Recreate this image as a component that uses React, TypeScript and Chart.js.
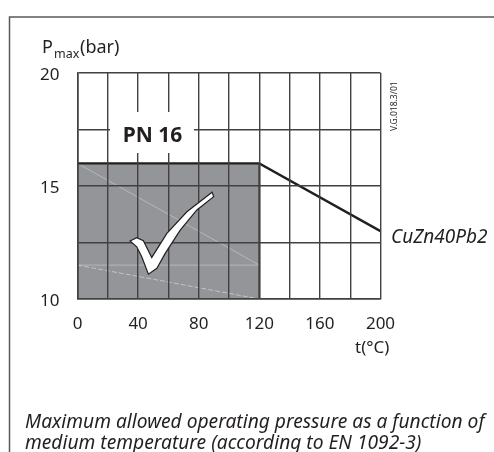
import React, { useEffect, useRef } from "react";
import { Chart, registerables } from "chart.js";

Chart.register(...registerables);

const xTickLabels = [0, 40, 80, 120, 160, 200];
const yTickLabels = [10, 15, 20];
const limitT = [0, 120, 200];
const limitP = [16, 16, 13];
const allowedT = [0, 120];
const allowedP = [16, 16];
const allowedEdge = [{ x: 120, y: 10 }, { x: 120, y: 16 }];
const faintDiagonal = [{ x: 0, y: 16 }, { x: 120, y: 11.5 }];
const faintLevel = [{ x: 0, y: 11.5 }, { x: 120, y: 11.5 }];
const faintDashed = [{ x: 0, y: 11.5 }, { x: 120, y: 10 }];
const checkT = [34.7, 39.1, 43.5, 49, 59, 72.2, 88.8, 89.9, 78.8, 67.8, 57.9, 52.4, 46.8, 42.4, 39.1];
const checkP = [12.57, 12.71, 12.58, 11.84, 12.9, 13.86, 14.72, 14.53, 13.94, 13.05, 12.02, 11.36, 11.1, 11.87, 12.31];
const seriesName = "CuZn40Pb2";
const docCode = "V.G.018.3/01";
const captionLines = [
  "Maximum allowed operating pressure as a function of",
  "medium temperature (according to EN 1092-3)",
];

const FONT = '"Noto Sans"';
const INK = "#231f20";

const fixedFit = (s: any) => {
  if (s.isHorizontal()) s.height = 40;
  else s.width = 40;
  s.paddingLeft = s.paddingRight = s.paddingTop = s.paddingBottom = 0;
};

const frame = {
  id: "frame",
  beforeDraw(c: any) {
    const g = c.ctx;
    g.save();
    g.fillStyle = "#fff";
    g.fillRect(0, 0, c.width, c.height);
    g.strokeStyle = "#58595b";
    g.lineWidth = 1.5;
    g.beginPath();
    g.moveTo(9.5, 452);
    g.lineTo(9.5, 17);
    g.lineTo(494, 17);
    g.stroke();
    g.restore();
  },
};

const annotations = {
  id: "annotations",
  afterDraw(c: any) {
    const g = c.ctx;
    const xs = c.scales.x;
    const ys = c.scales.y;
    g.save();
    g.fillStyle = "#fff";
    g.fillRect(110, 112, 84, 41);
    g.fillStyle = INK;
    g.textBaseline = "alphabetic";
    g.textAlign = "center";
    g.font = `700 21px ${FONT}`;
    g.fillText("PN 16", xs.getPixelForValue(49.5), 142);

    g.beginPath();
    checkT.forEach((t, i) => {
      const px = xs.getPixelForValue(t);
      const py = ys.getPixelForValue(checkP[i]);
      if (i === 0) g.moveTo(px, py);
      else g.lineTo(px, py);
    });
    g.closePath();
    g.fillStyle = "#fff";
    g.fill();
    g.strokeStyle = INK;
    g.lineWidth = 1.2;
    g.stroke();

    g.fillStyle = INK;
    g.textAlign = "left";
    g.font = `18px ${FONT}`;
    g.fillText("P", 42, 53);
    g.font = `12.5px ${FONT}`;
    g.fillText("max", 54, 58);
    g.font = `18px ${FONT}`;
    g.fillText("(bar)", 80, 53);
    g.font = `17px ${FONT}`;
    g.fillText("t(°C)", 355, 353);
    g.font = `italic 19px ${FONT}`;
    g.fillText(seriesName, 391, 243, 98);
    g.font = `italic 19.2px ${FONT}`;
    g.fillText(captionLines[0], 25, 428, 463);
    g.fillText(captionLines[1], 25, 449, 416);

    g.save();
    g.translate(397, 131);
    g.rotate(-Math.PI / 2);
    g.font = `8.5px ${FONT}`;
    g.fillText(docCode, 0, 0, 58);
    g.restore();
    g.restore();
  },
};

export default function App() {
  const ref = useRef<HTMLCanvasElement>(null);
  useEffect(() => {
    const chart = new Chart(ref.current!, {
      type: "line",
      data: {
        datasets: [
          {
            data: allowedT.map((t, i) => ({ x: t, y: allowedP[i] })),
            borderWidth: 0,
            pointRadius: 0,
            backgroundColor: "#939598",
            fill: "start",
            order: 5,
          },
          ...[faintDiagonal, faintLevel].map((d) => ({
            data: d,
            borderColor: "#c4c5c7",
            borderWidth: 0.7,
            pointRadius: 0,
            order: 4,
          })),
          {
            data: faintDashed,
            borderColor: "#d0d1d3",
            borderWidth: 0.8,
            borderDash: [5, 2],
            pointRadius: 0,
            order: 4,
          },
          {
            data: limitT.map((t, i) => ({ x: t, y: limitP[i] })),
            borderColor: INK,
            borderWidth: 2.4,
            pointRadius: 0,
            order: 1,
          },
        ],
      },
      options: {
        animation: false,
        responsive: false,
        events: [],
        layout: { padding: { left: 37.5, right: 113.5, top: 73, bottom: 113 } },
        plugins: { legend: { display: false }, tooltip: { enabled: false } },
        scales: {
          x: {
            type: "linear",
            min: 0,
            max: 200,
            afterFit: fixedFit,
            border: { color: "#414042", width: 1.6, z: 1 },
            grid: { color: "#414042", lineWidth: 1.4, drawTicks: false, z: 1 },
            ticks: {
              stepSize: 20,
              autoSkip: false,
              maxRotation: 0,
              padding: 15,
              color: INK,
              font: { family: FONT, size: 17 },
              callback: (v: any) => (xTickLabels.includes(v) ? String(v) : ""),
            },
          },
          y: {
            type: "linear",
            min: 10,
            max: 20,
            afterFit: fixedFit,
            border: { color: "#414042", width: 1.6, z: 1 },
            grid: { color: "#414042", lineWidth: 1.4, drawTicks: false, z: 1 },
            ticks: {
              stepSize: 2.5,
              autoSkip: false,
              padding: 18,
              labelOffset: 2,
              color: INK,
              font: { family: FONT, size: 17 },
              callback: (v: any) => (yTickLabels.includes(v) ? String(v) : ""),
            },
          },
        },
      },
      plugins: [
        frame,
        {
          id: "edge",
          afterDatasetsDraw(c: any) {
            const g = c.ctx;
            g.save();
            g.strokeStyle = "#414042";
            g.lineWidth = 2;
            g.beginPath();
            allowedEdge.forEach((p, i) => {
              const px = c.scales.x.getPixelForValue(p.x);
              const py = c.scales.y.getPixelForValue(p.y);
              if (i === 0) g.moveTo(px, py);
              else g.lineTo(px, py);
            });
            g.stroke();
            g.restore();
          },
        },
        annotations,
      ],
    } as any);
    return () => chart.destroy();
  }, []);
  return (
    <canvas
      ref={ref}
      width={494}
      height={452}
      style={{ position: "absolute", left: 0, top: 0, width: 494, height: 452 }}
    />
  );
}
